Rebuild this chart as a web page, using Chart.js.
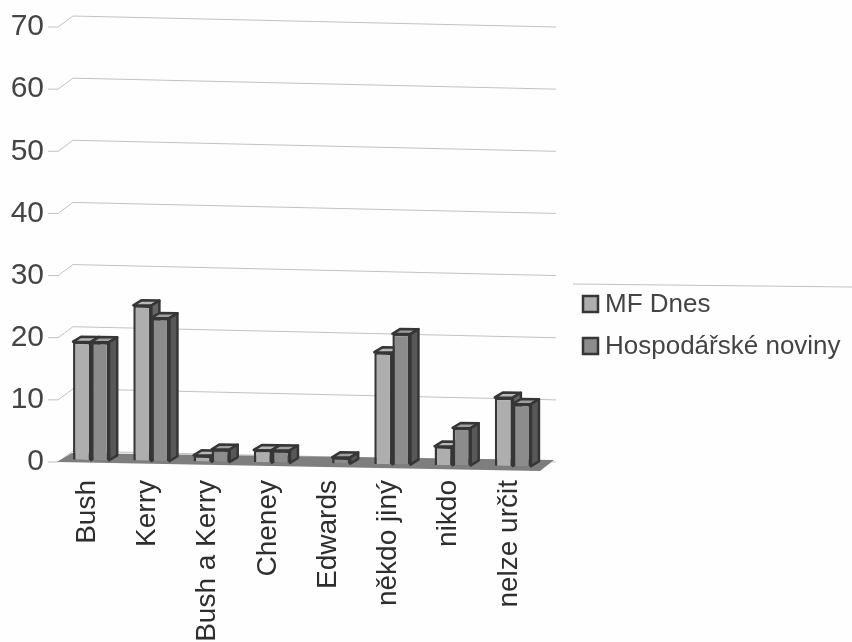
<!DOCTYPE html>
<html>
<head>
<meta charset="utf-8">
<style>
  html, body { margin: 0; padding: 0; background: #fefefe; }
  canvas { display: block; }
</style>
</head>
<body>
<canvas id="chart" width="852" height="642"></canvas>
<script src="https://cdn.jsdelivr.net/npm/chart.js@4"></script>
<script>
const categories = ['Bush', 'Kerry', 'Bush a Kerry', 'Cheney', 'Edwards', 'někdo jiný', 'nikdo', 'nelze určit'];
const mfDnes = [19, 25, 1, 2, 0, 18, 3, 11];
const hospodarske = [19, 23, 2, 2, 1, 21, 6, 10];
const seriesNames = ['MF Dnes', 'Hospodářské noviny'];
const frontColors = ['#aeaeae', '#8c8c8c'];
const topColors = ['#b8b8b8', '#a0a0a0'];
const sideColors = ['#666666', '#585858'];

const OUTLINE = '#363636';
const GRID_SLOPE = 0.0228;   // back wall lines fall slightly to the right
const BAR_SLOPE = 0.0143;    // bars sit a bit further in, so they fall less
const X0 = 57;               // front left corner of the floor
const WALL_DX = 15, WALL_DY = 11;
const BAR_DX = 8, BAR_DY = 5;

const scene3d = {
    id: 'scene3d',
    beforeDatasetsDraw(chart) {
        const { ctx, scales: { x, y } } = chart;
        const y0 = y.getPixelForValue(0);
        const backRight = 556;

        // grid lines: short tick, step up to the back wall, then across
        ctx.save();
        ctx.strokeStyle = '#c2c2c2';
        ctx.lineWidth = 1;
        y.ticks.forEach(t => {
            const py = y.getPixelForValue(t.value);
            ctx.beginPath();
            ctx.moveTo(X0 - 9, py);
            ctx.lineTo(X0 + 1, py);
            ctx.lineTo(X0 + WALL_DX + 1, py - WALL_DY);
            ctx.lineTo(backRight, py - WALL_DY + GRID_SLOPE * (backRight - X0 - WALL_DX - 1));
            ctx.stroke();
        });

        // floor
        ctx.fillStyle = '#7e7e7e';
        ctx.beginPath();
        ctx.moveTo(X0, y0);
        ctx.lineTo(540, y0 + 9);
        ctx.lineTo(554, y0 - 2);
        ctx.lineTo(X0 + WALL_DX, y0 - 9);
        ctx.closePath();
        ctx.fill();
        ctx.restore();

        // bars are drawn tilted, the save stays open until afterDatasetsDraw
        ctx.save();
        ctx.transform(1, BAR_SLOPE, 0, 1, 0, -BAR_SLOPE * 91 - 2);

        // top and side faces, the library draws the fronts after this
        ctx.strokeStyle = OUTLINE;
        ctx.lineWidth = 2.5;
        ctx.lineJoin = 'round';
        chart.data.datasets.forEach((ds, i) => {
            chart.getDatasetMeta(i).data.forEach((bar, j) => {
                if (!ds.data[j]) return;
                const r = bar.x + bar.width / 2, l = bar.x - bar.width / 2;
                ctx.fillStyle = topColors[i];
                ctx.beginPath();
                ctx.moveTo(l, bar.y);
                ctx.lineTo(l + BAR_DX, bar.y - BAR_DY);
                ctx.lineTo(r + BAR_DX, bar.y - BAR_DY);
                ctx.lineTo(r, bar.y);
                ctx.closePath();
                ctx.fill();
                ctx.stroke();
                ctx.fillStyle = sideColors[i];
                ctx.beginPath();
                ctx.moveTo(r, bar.y);
                ctx.lineTo(r + BAR_DX, bar.y - BAR_DY);
                ctx.lineTo(r + BAR_DX, bar.base - BAR_DY);
                ctx.lineTo(r, bar.base);
                ctx.closePath();
                ctx.fill();
                ctx.stroke();
            });
        });
    },
    afterDatasetsDraw(chart) {
        chart.ctx.restore();
    },
    afterDraw(chart) {
        // legend with its line on top
        const ctx = chart.ctx;
        ctx.save();
        ctx.strokeStyle = '#c2c2c2';
        ctx.lineWidth = 1;
        ctx.beginPath();
        ctx.moveTo(573, 284);
        ctx.lineTo(852, 287);
        ctx.stroke();
        ctx.font = '26px "Liberation Sans"';
        ctx.textBaseline = 'middle';
        chart.data.datasets.forEach((ds, i) => {
            const ly = 304 + i * 42;
            ctx.fillStyle = ds.backgroundColor;
            ctx.strokeStyle = OUTLINE;
            ctx.lineWidth = 2.5;
            ctx.fillRect(583, ly - 8, 15, 16);
            ctx.strokeRect(583, ly - 8, 15, 16);
            ctx.fillStyle = '#444';
            ctx.fillText(ds.label, 605, ly + 1);
        });
        ctx.restore();
    }
};

new Chart(document.getElementById('chart'), {
    type: 'bar',
    data: {
        labels: categories,
        datasets: [
            { label: seriesNames[0], data: mfDnes, backgroundColor: frontColors[0], borderColor: OUTLINE, borderWidth: 2.5 },
            { label: seriesNames[1], data: hospodarske, backgroundColor: frontColors[1], borderColor: OUTLINE, borderWidth: 2.5 }
        ]
    },
    options: {
        responsive: false,
        animation: false,
        layout: { padding: { top: 22, right: 309, left: 0, bottom: 0 } },
        datasets: { bar: { categoryPercentage: 0.6, barPercentage: 1 } },
        plugins: { legend: { display: false }, tooltip: { enabled: false } },
        scales: {
            y: {
                min: 0,
                max: 70,
                afterFit: s => { s.width = 61; },
                grid: { display: false },
                border: { display: false },
                ticks: { stepSize: 10, padding: 9, color: '#444', font: { family: '"Liberation Sans"', size: 30 } }
            },
            x: {
                afterFit: s => { s.height = 180; },
                grid: { display: false },
                border: { display: false },
                ticks: {
                    autoSkip: false,
                    minRotation: 90,
                    maxRotation: 90,
                    padding: 10,
                    labelOffset: -4,
                    color: '#2e2e2e',
                    font: { family: '"Liberation Sans"', size: 28 }
                }
            }
        }
    },
    plugins: [scene3d]
});
</script>
</body>
</html>
